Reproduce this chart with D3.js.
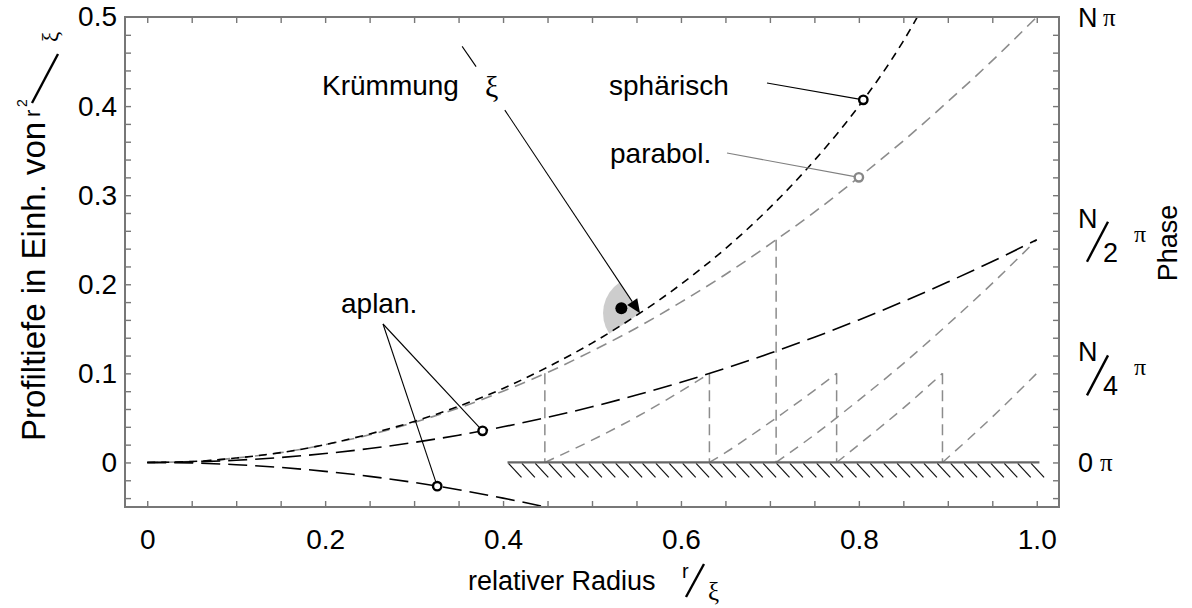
<!DOCTYPE html>
<html>
<head>
<meta charset="utf-8">
<script src="https://cdn.jsdelivr.net/npm/d3@7"></script>
<style>
  html, body { margin: 0; padding: 0; background: #fff; }
  svg text { font-family: "Liberation Sans", Arial, sans-serif; fill: #000; }
  svg text.greek { font-family: "Liberation Serif", "DejaVu Serif", serif; }
</style>
</head>
<body>
<svg id="chart" width="1192" height="608"></svg>
<script>
// ---- profile depth (units of r²/ξ) against relative radius r/ξ ----
const rhoSteps = [0, 0.05, 0.1, 0.15, 0.2, 0.25, 0.3, 0.35, 0.4, 0.45, 0.5,
                  0.55, 0.6, 0.65, 0.7, 0.75, 0.8, 0.85, 0.9, 0.95, 1.0];
const sphericalDepth = [0, 0.001, 0.005, 0.011, 0.020, 0.032, 0.046, 0.063, 0.083, 0.107, 0.134,
                        0.165, 0.200, 0.240, 0.286, 0.339, 0.400, 0.473, 0.564];
const parabolicDepth = [0, 0.001, 0.005, 0.011, 0.020, 0.031, 0.045, 0.061, 0.080, 0.101, 0.125,
                        0.151, 0.180, 0.211, 0.245, 0.281, 0.320, 0.361, 0.405, 0.451, 0.500];
const aplanUpperDepth = [0, 0.0006, 0.0025, 0.0056, 0.010, 0.0156, 0.0225, 0.0306, 0.040, 0.0506, 0.0625,
                         0.0756, 0.090, 0.1056, 0.1225, 0.1406, 0.160, 0.1806, 0.2025, 0.2256, 0.250];
const aplanLowerDepth = [0, -0.0006, -0.0025, -0.0056, -0.010, -0.0156, -0.0225, -0.0306, -0.040, -0.0506, -0.0625];

// parabolic profile folded back at the phase steps
const zoneA = [[0.447, 0], [0.5, 0.025], [0.55, 0.051], [0.6, 0.080], [0.632, 0.100]];
const zoneB = [[0.632, 0], [0.65, 0.011], [0.7, 0.045], [0.75, 0.081], [0.775, 0.100]];
const zoneC = [[0.775, 0], [0.8, 0.020], [0.85, 0.061], [0.894, 0.100]];
const zoneD = [[0.894, 0], [0.95, 0.051], [1.0, 0.100]];
const zoneHalf = [[0.707, 0], [0.75, 0.031], [0.8, 0.070], [0.85, 0.111], [0.9, 0.155], [0.95, 0.201], [1.0, 0.250]];
const zoneSteps = [[0.447, 0.100], [0.632, 0.100], [0.707, 0.250], [0.775, 0.100], [0.894, 0.100]];

// substrate (hatched) from r/ξ = 0.405 to 1.0
const substrate = [0.405, 1.003];

// marked points and label anchors
const markSpherical = [0.805, 0.407];
const markParabolic = [0.800, 0.320];
const markAplanUpper = [0.377, 0.0355];
const markAplanLower = [0.326, -0.0266];
const curvatureDot = [0.533, 0.173];
const curvaturePoint = [0.554, 0.1675];
const normalTop = [0.354, 0.467];
const normalGap = [[0.3697, 0.4443], [0.402, 0.3955]];

// tick labels
const xTickValues = [0, 0.2, 0.4, 0.6, 0.8, 1.0];
const xTickLabels = ["0", "0.2", "0.4", "0.6", "0.8", "1.0"];
const yTickValues = [0, 0.1, 0.2, 0.3, 0.4, 0.5];
const yTickLabels = ["0", "0.1", "0.2", "0.3", "0.4", "0.5"];
const phaseLevels = [0.5, 0.25, 0.1, 0];
const phaseNumer = ["N", "N", "N", "0"];
const phaseDenom = [null, "2", "4", null];

// ---- layout ----
const svg = d3.select("#chart");
const x = d3.scaleLinear().domain([-0.025, 1.025]).range([125, 1059]);
const y = d3.scaleLinear().domain([-0.05, 0.5]).range([507, 17]);
const frameColor = "#777";

svg.append("defs").append("clipPath").attr("id", "plotClip")
  .append("rect").attr("x", x(-0.025)).attr("y", y(0.5))
  .attr("width", x(1.025) - x(-0.025)).attr("height", y(-0.05) - y(0.5));

const line = d3.line().x(d => x(d[0])).y(d => y(d[1])).curve(d3.curveMonotoneX);
const zip = (r, z) => z.map((v, i) => [r[i], v]);

// ---- curvature sector (normal vs tangent at the marked point) ----
const P = [x(curvaturePoint[0]), y(curvaturePoint[1])];
const T = [x(normalTop[0]), y(normalTop[1])];
const len = Math.hypot(P[0] - T[0], P[1] - T[1]);
const d = [(P[0] - T[0]) / len, (P[1] - T[1]) / len];     // along the normal, towards the curve
const tan = [-d[1], d[0]];                                  // tangent, pointing left/down
const aNormal = Math.atan2(-d[0], d[1]);
const aTangent = Math.atan2(tan[0], -tan[1]);
svg.append("path")
  .attr("transform", `translate(${P[0]},${P[1]})`)
  .attr("d", d3.arc()({ innerRadius: 0, outerRadius: 37, startAngle: aTangent, endAngle: aNormal }))
  .attr("fill", "#cdcdcd");

const plot = svg.append("g").attr("clip-path", "url(#plotClip)");

// zone profile pieces
[zoneA, zoneB, zoneC, zoneD, zoneHalf].forEach(z => {
  plot.append("path").attr("d", line(z)).attr("fill", "none")
    .attr("stroke", "#8c8c8c").attr("stroke-width", 1.5).attr("stroke-dasharray", "10,7");
});
plot.selectAll("line.step").data(zoneSteps).join("line").attr("class", "step")
  .attr("x1", s => x(s[0])).attr("x2", s => x(s[0]))
  .attr("y1", s => y(s[1])).attr("y2", y(0))
  .attr("stroke", "#8c8c8c").attr("stroke-width", 1.5).attr("stroke-dasharray", "11,6");

// main profiles
plot.append("path").attr("d", line(zip(rhoSteps, parabolicDepth))).attr("fill", "none")
  .attr("stroke", "#8c8c8c").attr("stroke-width", 1.6).attr("stroke-dasharray", "11,7");
plot.append("path").attr("d", line(zip(rhoSteps, aplanUpperDepth))).attr("fill", "none")
  .attr("stroke", "#000").attr("stroke-width", 1.6).attr("stroke-dasharray", "19,8");
plot.append("path").attr("d", line(zip(rhoSteps, aplanLowerDepth))).attr("fill", "none")
  .attr("stroke", "#000").attr("stroke-width", 1.6).attr("stroke-dasharray", "19,8");
plot.append("path").attr("d", line(zip(rhoSteps, sphericalDepth))).attr("fill", "none")
  .attr("stroke", "#000").attr("stroke-width", 1.6).attr("stroke-dasharray", "8,6");

// substrate with hatching
const sx0 = x(substrate[0]), sx1 = x(substrate[1]), sy = y(0);
const hatch = svg.append("g");
d3.range(sx0 + 1, sx1 - 8, 13.4).forEach(hx => {
  hatch.append("line").attr("x1", hx).attr("y1", sy + 1).attr("x2", hx + 13).attr("y2", sy + 15)
    .attr("stroke", "#111").attr("stroke-width", 1.2);
});
svg.append("line").attr("x1", sx0).attr("x2", sx1).attr("y1", sy).attr("y2", sy)
  .attr("stroke", "#666").attr("stroke-width", 2.2);

// ---- frame and ticks ----
function ticks(axis, tx, ty) {
  const g = svg.append("g").attr("transform", `translate(${tx},${ty})`).call(axis);
  g.select(".domain").remove();
  g.selectAll(".tick line").attr("stroke", frameColor).attr("stroke-width", 1.4);
  return g;
}
const xMinor = d3.range(0, 1.0001, 0.05);
const yMinor = d3.range(-0.04, 0.4801, 0.02);
ticks(d3.axisBottom(x).tickValues(xMinor).tickSize(-6).tickFormat(""), 0, y(-0.05));
ticks(d3.axisTop(x).tickValues(xMinor).tickSize(-6).tickFormat(""), 0, y(0.5));
ticks(d3.axisLeft(y).tickValues(yMinor).tickSize(-6).tickFormat(""), x(-0.025), 0);
ticks(d3.axisRight(y).tickValues(yMinor).tickSize(-6).tickFormat(""), x(1.025), 0);
svg.append("rect").attr("x", x(-0.025)).attr("y", y(0.5))
  .attr("width", x(1.025) - x(-0.025)).attr("height", y(-0.05) - y(0.5))
  .attr("fill", "none").attr("stroke", frameColor).attr("stroke-width", 2);

// tick labels
const xl = svg.append("g").attr("transform", `translate(0,${y(-0.05)})`)
  .call(d3.axisBottom(x).tickValues(xTickValues).tickSize(0).tickPadding(22)
    .tickFormat((v, i) => xTickLabels[i]));
xl.select(".domain").remove();
xl.selectAll("text").attr("font-size", 28).attr("font-family", "Liberation Sans, Arial, sans-serif").attr("fill", "#000");
const yl = svg.append("g").attr("transform", `translate(${x(-0.025)},0)`)
  .call(d3.axisLeft(y).tickValues(yTickValues).tickSize(0).tickPadding(8)
    .tickFormat((v, i) => yTickLabels[i]));
yl.select(".domain").remove();
yl.selectAll("text").attr("font-size", 28).attr("font-family", "Liberation Sans, Arial, sans-serif").attr("fill", "#000");

// phase labels on the right
phaseLevels.forEach((lv, i) => {
  const cy = y(lv);
  const g = svg.append("g").attr("transform", `translate(1078,${cy})`);
  if (phaseDenom[i]) {
    g.append("text").attr("x", 0).attr("y", -12).attr("font-size", 27).text(phaseNumer[i]);
    g.append("line").attr("x1", 9).attr("y1", 22).attr("x2", 30).attr("y2", -18)
      .attr("stroke", "#000").attr("stroke-width", 2.4);
    g.append("text").attr("x", 25).attr("y", 22).attr("font-size", 27).text(phaseDenom[i]);
    g.append("text").attr("class", "greek").attr("x", 56).attr("y", 2).attr("font-size", 24).text("π");
  } else {
    g.append("text").attr("x", 0).attr("y", 10).attr("font-size", 27).text(phaseNumer[i]);
    g.append("text").attr("class", "greek").attr("x", phaseNumer[i] === "N" ? 25 : 22).attr("y", 9)
      .attr("font-size", 25).text("π");
  }
});
svg.append("text").attr("transform", "translate(1177,243) rotate(-90)")
  .attr("text-anchor", "middle").attr("font-size", 27).text("Phase");

// axis titles
svg.append("text").attr("x", 468).attr("y", 590).attr("font-size", 27).text("relativer Radius");
svg.append("text").attr("x", 682).attr("y", 578).attr("font-size", 20).text("r");
svg.append("line").attr("x1", 686).attr("y1", 597).attr("x2", 704).attr("y2", 564)
  .attr("stroke", "#000").attr("stroke-width", 2.4);
svg.append("text").attr("class", "greek").attr("x", 708).attr("y", 600).attr("font-size", 25).text("ξ");

svg.append("text").attr("transform", "translate(45,441) rotate(-90)")
  .attr("font-size", 33).text("Profiltiefe in Einh. von");
svg.append("text").attr("transform", "translate(40,117) rotate(-90)").attr("font-size", 22).text("r");
svg.append("text").attr("transform", "translate(27,107) rotate(-90)").attr("font-size", 14).text("2");
svg.append("line").attr("x1", 32).attr("y1", 103).attr("x2", 58).attr("y2", 54)
  .attr("stroke", "#000").attr("stroke-width", 2.4);
svg.append("text").attr("class", "greek").attr("transform", "translate(58,42) rotate(-90)")
  .attr("font-size", 23).text("ξ");

// ---- annotations ----
const ann = svg.append("g");
const px = p => [x(p[0]), y(p[1])];

// curvature normal with arrow head
const G0 = px(normalGap[0]), G1 = px(normalGap[1]);
const base = [P[0] - 14 * d[0], P[1] - 14 * d[1]];
ann.append("line").attr("x1", T[0]).attr("y1", T[1]).attr("x2", G0[0]).attr("y2", G0[1])
  .attr("stroke", "#000").attr("stroke-width", 1.1);
ann.append("line").attr("x1", G1[0]).attr("y1", G1[1]).attr("x2", base[0]).attr("y2", base[1])
  .attr("stroke", "#000").attr("stroke-width", 1.1);
ann.append("path")
  .attr("d", `M${P[0]},${P[1]}L${base[0] + 6 * tan[0]},${base[1] + 6 * tan[1]}L${base[0] - 6 * tan[0]},${base[1] - 6 * tan[1]}Z`)
  .attr("fill", "#000");
const D = px(curvatureDot);
ann.append("circle").attr("cx", D[0]).attr("cy", D[1]).attr("r", 6).attr("fill", "#000");
ann.append("text").attr("x", 322).attr("y", 95).attr("font-size", 28).text("Krümmung");
ann.append("text").attr("class", "greek").attr("x", 485).attr("y", 97).attr("font-size", 30).text("ξ");

// leader lines
const leaders = [
  { from: [767, 83], to: markSpherical, color: "#000" },
  { from: [727, 153], to: markParabolic, color: "#808080" },
  { from: [383, 324], to: markAplanUpper, color: "#000" },
  { from: [383, 324], to: markAplanLower, color: "#000" }
];
leaders.forEach(l => {
  const t = px(l.to);
  ann.append("line").attr("x1", l.from[0]).attr("y1", l.from[1]).attr("x2", t[0]).attr("y2", t[1])
    .attr("stroke", l.color).attr("stroke-width", 1.1);
});
[[markSpherical, "#000"], [markParabolic, "#888"], [markAplanUpper, "#000"], [markAplanLower, "#000"]]
  .forEach(([m, c]) => {
    const p = px(m);
    ann.append("circle").attr("cx", p[0]).attr("cy", p[1]).attr("r", 4.2)
      .attr("fill", "#fff").attr("stroke", c).attr("stroke-width", 2.4);
  });
ann.append("text").attr("x", 609).attr("y", 95).attr("font-size", 28).text("sphärisch");
ann.append("text").attr("x", 610).attr("y", 163).attr("font-size", 28).text("parabol.");
ann.append("text").attr("x", 341).attr("y", 313).attr("font-size", 28).text("aplan.");
</script>
</body>
</html>
